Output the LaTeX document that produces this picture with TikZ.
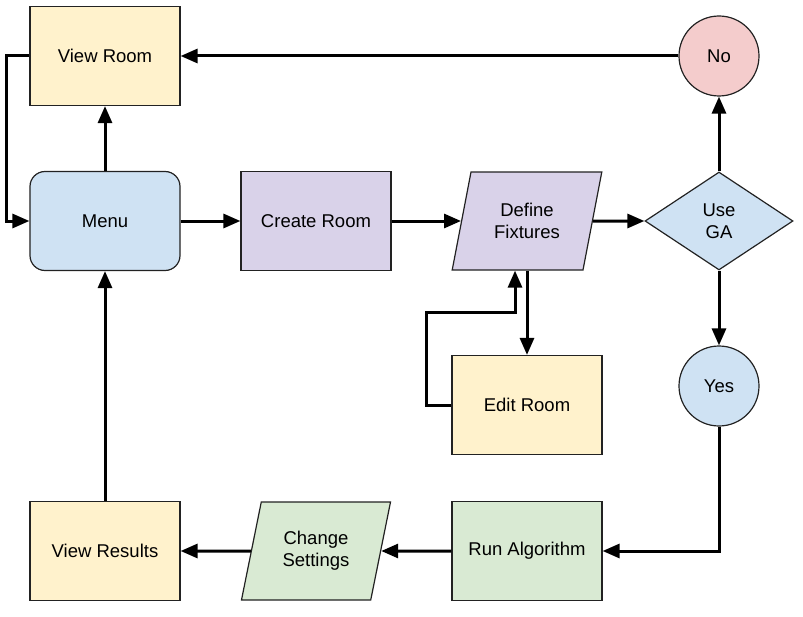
\documentclass[tikz,border=0pt]{standalone}
\usepackage{fontspec}
\setmainfont{Liberation Sans}
\usepackage{xcolor}
\usepackage{tikz}
\usetikzlibrary{shapes.geometric, arrows.meta, positioning}

\definecolor{paleyellow}{HTML}{FFF2CC}
\definecolor{paleblue}{HTML}{CFE2F3}
\definecolor{palepurple}{HTML}{D9D2E9}
\definecolor{palegreen}{HTML}{D9EAD3}
\definecolor{palered}{HTML}{F4CCCC}
\definecolor{edge}{HTML}{222222}

\begin{document}
\begin{tikzpicture}[>={Triangle[length=17pt,width=14pt]}, on grid,
  font=\fontsize{18.5}{22}\selectfont,
  base/.style={draw=edge, line width=1.2pt, align=center, inner sep=2pt},
  box/.style={base, rectangle, minimum width=150pt, minimum height=99pt},
  menubox/.style={box, rounded corners=15pt},
  data/.style={base, trapezium, trapezium left angle=73.5, trapezium right angle=106.5,
    trapezium stretches=true, minimum width=150pt, minimum height=98pt},
  decision/.style={base, diamond, inner sep=0pt, minimum width=148pt, minimum height=98pt},
  answer/.style={base, circle, minimum size=80pt, inner sep=0pt},
  flow/.style={->, line width=3pt, black}]
\useasboundingbox (-105pt,221pt) rectangle (698pt,-395pt);

% Nodos
\node[menubox, fill=paleblue] (menu) {Menu};
\node[box, fill=paleyellow, above=165pt of menu] (viewroom) {View Room};
\node[box, fill=palepurple, right=211pt of menu] (create) {Create Room};
\node[data, fill=palepurple, right=211pt of create] (fixtures) {Define\\Fixtures};
\node[decision, fill=paleblue, right=192pt of fixtures] (usega) {Use\\GA};
\node[answer, fill=palered, above=165pt of usega] (no) {No};
\node[answer, fill=paleblue, below=165pt of usega] (yes) {Yes};
\node[box, fill=paleyellow, below=184pt of fixtures] (edit) {Edit Room};
\node[box, fill=palegreen, below=330pt of fixtures] (run) {Run Algorithm};
\node[data, fill=palegreen, below=330pt of create] (settings) {Change\\Settings};
\node[box, fill=paleyellow, below=330pt of menu] (results) {View Results};
\coordinate (editturn) at ([shift={(-12pt,-42pt)}]fixtures.south);

% Flechas
\draw[flow] (menu) -- (viewroom);
\draw[flow] (viewroom.west) -- ++(-23pt,0) |- (menu.west);
\draw[flow] (no) -- (viewroom);
\draw[flow] (menu) -- (create);
\draw[flow] (create) -- (fixtures);
\draw[flow] (fixtures) -- (usega);
\draw[flow] (usega) -- (no);
\draw[flow] (usega) -- (yes);
\draw[flow] (fixtures.south -| edit.north) -- (edit.north);
\draw[flow] (edit.west) -- ++(-25pt,0) |- (editturn) -- (editturn |- fixtures.south);
\draw[flow] (yes) |- (run);
\draw[flow] (run) -- (settings);
\draw[flow] (settings) -- (results);
\draw[flow] (results) -- (menu);
\end{tikzpicture}
\end{document}
